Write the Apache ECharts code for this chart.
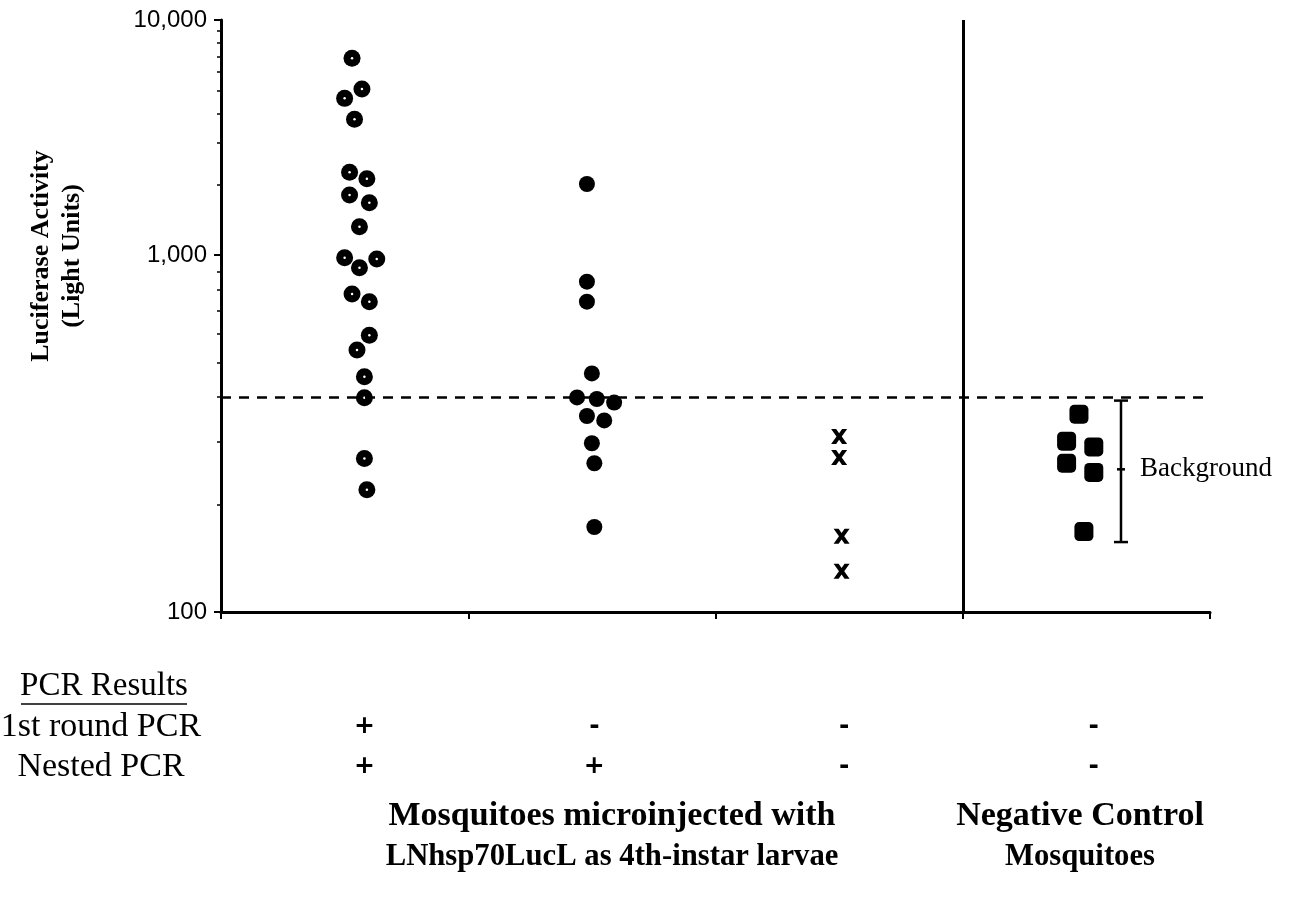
<!DOCTYPE html>
<html><head><meta charset="utf-8">
<script src="https://cdn.jsdelivr.net/npm/echarts@6/dist/echarts.min.js"></script>
<style>html,body{margin:0;padding:0;background:#fff}#c{width:1295px;height:902px}</style>
</head><body><div id="c"></div>
<script>
// ---- data (x position within category band, luciferase light units) ----
const categories = ['LNhsp70LucL PCR+/+', 'LNhsp70LucL PCR-/+', 'LNhsp70LucL PCR-/-', 'Negative Control'];
const yTickLabels = { 100: '100', 1000: '1,000', 10000: '10,000' };
const group1X = [0.53,0.57,0.50,0.54,0.52,0.59,0.52,0.60,0.56,0.50,0.63,0.56,0.53,0.60,0.60,0.55,0.58,0.58,0.58,0.59];
const group1Y = [6870,5090,4640,3780,2250,2110,1800,1670,1320,983,974,921,778,740,596,542,456,398,269,220];
const group2X = [1.48,1.48,1.48,1.50,1.44,1.52,1.59,1.48,1.55,1.50,1.51,1.51];
const group2Y = [2005,842,740,466,399,395,386,354,344,297,261,173];
const group3X = [2.50,2.50,2.51,2.51];
const group3Y = [310,271,163,130];
const controlX = [3.47,3.42,3.53,3.42,3.53,3.49];
const controlY = [358,301,290,261,246,168];
const threshold = [400];
const dividerX = [3];
const backgroundX = [3.64];
const backgroundRange = [157, 251, 391]; // low, mean, high
const pcrHeader = ['PCR Results'];
const pcrRowLabels = ['1st round PCR', 'Nested PCR'];
const pcrRound1 = ['+', '-', '-', '-'];
const pcrNested = ['+', '+', '-', '-'];
const pcrColX = [0.58, 1.51, 2.52, 3.53];
const groupTitleLine1 = ['Mosquitoes microinjected with', 'Negative Control'];
const groupTitleLine2 = ['LNhsp70LucL as 4th-instar larvae', 'Mosquitoes'];

// ---- helpers ----
const zip = (xs, ys) => xs.map((x, i) => [x, ys[i]]);
const upper = arr => arr.filter(d => d[1] >= 1000);
const lower = arr => arr.filter(d => d[1] < 1000);
const g1 = zip(group1X, group1Y), g2 = zip(group2X, group2Y), g3 = zip(group3X, group3Y), g4 = zip(controlX, controlY);

const serif = '"Liberation Serif", "Times New Roman", serif';
const sans = '"Liberation Sans", Arial, sans-serif';
const BLACK = '#000';
const crossPath = 'path://M0,0H4.4L7,4L9.6,0H14L9.3,7L14,14H9.6L7,10L4.4,14H0L4.7,7Z';

const chart = echarts.init(document.getElementById('c'), null, { renderer: 'canvas' });

function scatter(name, gi, data, sym, size, color, z) {
  return { name, type: 'scatter', xAxisIndex: gi, yAxisIndex: gi, data, symbol: sym, symbolSize: size,
    itemStyle: { color, opacity: 1 }, clip: false, silent: true, z: z || 3, animation: false };
}

const yAxisBase = {
  type: 'log', logBase: 10,
  axisLine: { show: true, lineStyle: { color: BLACK, width: 3 } },
  axisTick: { show: true, length: 7, lineStyle: { color: BLACK, width: 2 } },
  minorTick: { show: true, splitNumber: 9, length: 4, lineStyle: { color: BLACK, width: 1.5 } },
  splitLine: { show: false },
  axisLabel: { color: BLACK, fontFamily: sans, fontSize: 24, margin: 14 }
};

const option = {
  backgroundColor: '#fff',
  animation: false,
  grid: [
    { left: 221, right: 85, top: 20, height: 235 },
    { left: 221, right: 85, top: 255, height: 357 }
  ],
  xAxis: [
    { gridIndex: 0, type: 'value', min: 0, max: 4, interval: 1, show: false },
    { gridIndex: 1, type: 'value', min: 0, max: 4, interval: 1,
      axisLine: { show: true, onZero: false, lineStyle: { color: BLACK, width: 3 } },
      axisTick: { show: true, length: 7, lineStyle: { color: BLACK, width: 2 } },
      axisLabel: { show: false }, splitLine: { show: false } }
  ],
  yAxis: [
    Object.assign({}, yAxisBase, { gridIndex: 0, min: 1000, max: 10000,
      axisLabel: Object.assign({}, yAxisBase.axisLabel, { formatter: v => yTickLabels[Math.round(v)] || '' }) }),
    Object.assign({}, yAxisBase, { gridIndex: 1, min: 100, max: 1000,
      axisLabel: Object.assign({}, yAxisBase.axisLabel, { formatter: v => Math.round(v) === 100 ? yTickLabels[100] : '' }) })
  ],
  series: [
    // upper decade
    Object.assign(scatter('g1u', 0, upper(g1), 'circle', 17, BLACK), {
      markLine: { silent: true, symbol: 'none', label: { show: false }, animation: false,
        lineStyle: { color: BLACK, width: 3, type: 'solid' }, data: [{ xAxis: dividerX[0] }] } }),
    scatter('g1u-dot', 0, upper(g1), 'circle', 2.5, '#fff', 4),
    scatter('g2u', 0, upper(g2), 'circle', 16, BLACK),
    // lower decade
    Object.assign(scatter('g1l', 1, lower(g1), 'circle', 17, BLACK), {
      markLine: { silent: true, symbol: 'none', label: { show: false }, animation: false,
        data: [
          { yAxis: threshold[0], lineStyle: { color: BLACK, width: 2.5, type: [10, 8] } },
          { xAxis: dividerX[0], lineStyle: { color: BLACK, width: 3, type: 'solid' } }
        ] } }),
    scatter('g1l-dot', 1, lower(g1), 'circle', 2.5, '#fff', 4),
    scatter('g2l', 1, lower(g2), 'circle', 16, BLACK),
    scatter('g3', 1, g3, crossPath, [16, 15], BLACK),
    scatter('g4', 1, g4, 'roundRect', 19, BLACK),
    {
      type: 'custom', xAxisIndex: 1, yAxisIndex: 1, clip: false, silent: true, animation: false,
      data: [[backgroundX[0], backgroundRange[0], backgroundRange[1], backgroundRange[2]]],
      renderItem(params, api) {
        const x = api.value(0);
        const lo = api.coord([x, api.value(1)]);
        const mid = api.coord([x, api.value(2)]);
        const hi = api.coord([x, api.value(3)]);
        const st = { stroke: BLACK, lineWidth: 2.5 };
        return { type: 'group', children: [
          { type: 'line', shape: { x1: hi[0], y1: hi[1], x2: lo[0], y2: lo[1] }, style: st },
          { type: 'line', shape: { x1: hi[0] - 7, y1: hi[1], x2: hi[0] + 7, y2: hi[1] }, style: st },
          { type: 'line', shape: { x1: lo[0] - 7, y1: lo[1], x2: lo[0] + 7, y2: lo[1] }, style: st },
          { type: 'line', shape: { x1: mid[0] - 4, y1: mid[1], x2: mid[0] + 4, y2: mid[1] }, style: st },
          { type: 'text', style: { text: 'Background', x: mid[0] + 19, y: mid[1], verticalAlign: 'middle',
              font: '27px ' + serif, fill: BLACK } }
        ] };
      }
    }
  ]
};
chart.setOption(option);

// ---- text annotations (PCR table, titles) ----
const graphics = [];
graphics.push({ type: 'text', x: 57, y: 256, rotation: Math.PI / 2,
  style: { text: 'Luciferase Activity\n(Light Units)', align: 'center', verticalAlign: 'middle',
    font: 'bold 26px ' + serif, lineHeight: 31, fill: BLACK } });
graphics.push({ type: 'text', x: 104, y: 686,
  style: { text: pcrHeader[0], align: 'center', verticalAlign: 'middle', font: '33px ' + serif, fill: BLACK } });
graphics.push({ type: 'line', shape: { x1: 21, y1: 704, x2: 187, y2: 704 }, style: { stroke: BLACK, lineWidth: 1.5 } });
const rowY = [727, 767];
pcrRowLabels.forEach((t, i) => graphics.push({ type: 'text', x: 101, y: rowY[i],
  style: { text: t, align: 'center', verticalAlign: 'middle', font: '34px ' + serif, fill: BLACK } }));
[pcrRound1, pcrNested].forEach((row, r) => row.forEach((s, c) => {
  const px = chart.convertToPixel({ xAxisIndex: 1 }, pcrColX[c]);
  graphics.push({ type: 'text', x: px, y: rowY[r] - 1,
    style: { text: s, align: 'center', verticalAlign: 'middle', font: 'bold 25px "DejaVu Sans", sans-serif', fill: BLACK } });
}));
const titleX = [612, 1080];
titleX.forEach((x, i) => {
  graphics.push({ type: 'text', x, y: 816,
    style: { text: groupTitleLine1[i], align: 'center', verticalAlign: 'middle', font: 'bold 34px ' + serif, fill: BLACK } });
  graphics.push({ type: 'text', x, y: 857,
    style: { text: groupTitleLine2[i], align: 'center', verticalAlign: 'middle', font: 'bold 30.7px ' + serif, fill: BLACK } });
});
chart.setOption({ graphic: graphics });
</script>
</body></html>
